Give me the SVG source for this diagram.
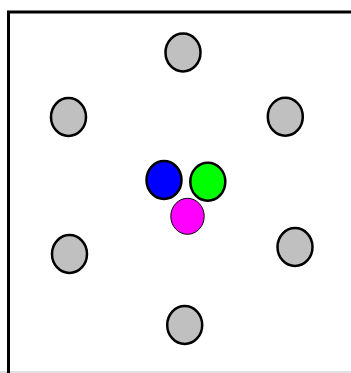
<svg xmlns="http://www.w3.org/2000/svg" width="351" height="373" viewBox="0 0 351 373">
<style>
.g{fill:#c0c0c0;stroke:#000;stroke-width:2.5}
.c{stroke:#000;stroke-width:2.5}
.m{fill:#ff00ff;stroke:#000;stroke-width:1}
</style>
<rect x="0" y="0" width="351" height="373" fill="#fff"/>
<rect x="0" y="371" width="351" height="2" fill="#e0e0e0"/>
<path d="M8.5 373 V12 H351" fill="none" stroke="#000" stroke-width="3"/>
<g id="connectors"></g>
<g id="n_top"><ellipse class="g" cx="183" cy="52.5" rx="17.5" ry="19"/></g>
<g id="n_upper_left"><ellipse class="g" cx="68.5" cy="117" rx="17.5" ry="19"/></g>
<g id="n_upper_right"><ellipse class="g" cx="285.3" cy="116.7" rx="17.5" ry="19"/></g>
<g id="n_lower_left"><ellipse class="g" cx="69.5" cy="254" rx="17.5" ry="19"/></g>
<g id="n_lower_right"><ellipse class="g" cx="295" cy="247" rx="17.5" ry="19"/></g>
<g id="n_bottom"><ellipse class="g" cx="184.7" cy="325" rx="17.5" ry="19"/></g>
<g id="n_blue"><ellipse class="c" fill="#0000ff" cx="164" cy="180" rx="17.5" ry="19"/></g>
<g id="n_green"><ellipse class="c" fill="#00ff00" cx="207.8" cy="181.7" rx="17.5" ry="19"/></g>
<g id="n_magenta"><ellipse class="m" cx="187.5" cy="216.3" rx="16.7" ry="18"/></g>
</svg>
